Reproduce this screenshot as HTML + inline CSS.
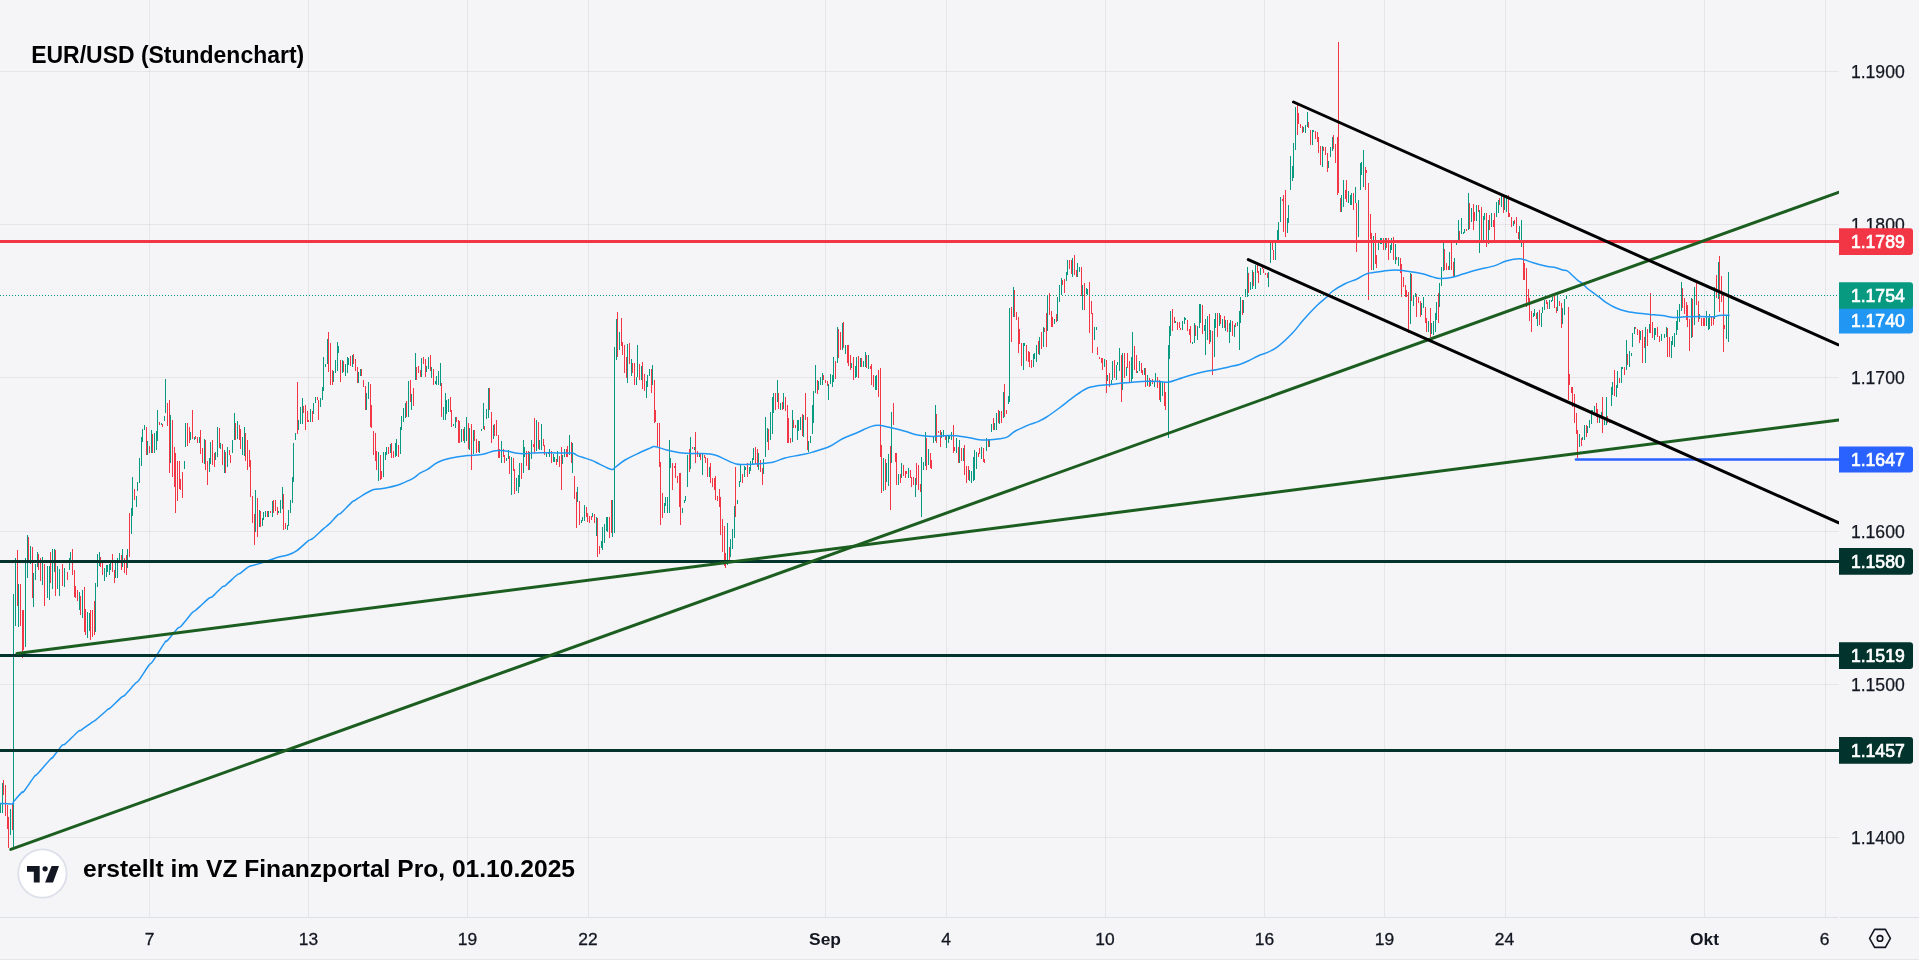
<!DOCTYPE html>
<html><head><meta charset="utf-8"><title>EUR/USD</title>
<style>html,body{margin:0;padding:0;background:#f5f5f7;width:1919px;height:960px;overflow:hidden;position:relative}</style>
</head><body>
<svg width="1919" height="960" viewBox="0 0 1919 960" style="position:absolute;left:0;top:0;will-change:transform"><rect width="1919" height="960" fill="#f5f5f7"/><path d="M0 71.5H1839M0 224.5H1839M0 377.5H1839M0 531.5H1839M0 684.5H1839M0 837.5H1839M149.5 0V917M308.5 0V917M467.5 0V917M588.5 0V917M825.5 0V917M946.5 0V917M1105.5 0V917M1264.5 0V917M1384.5 0V917M1505.5 0V917M1704.5 0V917M1825.5 0V917" stroke="#000" stroke-opacity="0.06" stroke-width="1" fill="none"/><path d="M0 917.5H1838.5M1840 917.5H1919" stroke="#dde1ea" stroke-width="1"/><path d="M0 959.5H1919" stroke="#e6e6e8" stroke-width="1"/><g clip-path="url(#cp)"><clipPath id="cp"><rect x="0" y="0" width="1839" height="917"/></clipPath><path d="M131.5 508.3V534.4M132.5 476.7V515.5M136.5 495.6V506.7M137.5 481.8V491.3M139.5 458.3V483.3M141.5 436.7V466.0M142.5 428.6V441.7M144.5 425.0V430.2M147.5 441.2V454.5M151.5 430.0V453.3M154.5 432.9V453.3M156.5 430.5V449.8M157.5 410.0V441.0M161.5 422.5V424.7M164.5 416.4V421.3M165.5 379.3V413.3M170.5 415.2V462.6M184.5 461.3V469.3M185.5 423.3V446.7M190.5 431.7V440.0M194.5 436.8V439.9M199.5 437.0V443.3M204.5 439.2V464.3M209.5 458.2V472.1M210.5 441.6V464.3M215.5 452.0V459.9M217.5 426.7V456.7M220.5 442.9V449.1M224.5 450.0V473.3M227.5 446.8V466.6M232.5 440.4V452.5M234.5 413.3V440.0M237.5 421.4V438.9M242.5 436.5V454.5M244.5 426.7V455.7M255.5 490.0V532.4M259.5 510.0V526.7M262.5 517.5V526.3M263.5 512.1V519.7M265.5 511.2V516.7M268.5 510.9V516.7M272.5 501.3V516.7M278.5 511.1V513.3M280.5 499.6V513.3M282.5 486.7V509.4M287.5 525.1V530.0M288.5 510.2V525.6M290.5 500.1V513.4M292.5 477.3V503.3M293.5 443.3V482.0M295.5 432.9V440.0M298.5 419.7V430.0M300.5 406.6V424.3M302.5 398.3V423.7M310.5 408.8V421.5M313.5 402.8V413.8M315.5 397.4V402.8M320.5 398.2V407.4M322.5 387.2V400.0M323.5 356.7V390.8M325.5 363.5V366.7M327.5 338.5V364.0M333.5 370.8V381.7M335.5 359.8V373.3M337.5 341.7V371.1M338.5 346.2V352.6M342.5 360.0V373.3M345.5 363.5V375.5M347.5 356.7V372.6M348.5 358.0V364.9M352.5 354.6V366.6M358.5 372.2V383.3M360.5 369.1V376.2M366.5 392.6V409.7M368.5 381.7V398.9M378.5 452.4V481.4M383.5 452.1V476.9M385.5 452.2V460.0M386.5 447.2V454.5M390.5 444.3V453.2M395.5 442.8V456.7M396.5 439.0V455.8M400.5 426.8V453.5M401.5 415.5V430.0M403.5 407.5V422.0M405.5 403.3V417.8M408.5 381.4V416.7M411.5 394.1V409.7M415.5 353.3V380.0M421.5 358.0V376.7M426.5 366.0V371.9M428.5 356.7V369.2M431.5 367.3V378.3M435.5 381.0V384.3M436.5 375.5V385.0M438.5 371.2V385.0M440.5 362.5V386.3M443.5 406.6V420.0M445.5 393.4V420.2M446.5 399.7V414.1M448.5 399.0V412.0M453.5 423.7V425.7M455.5 416.7V428.4M461.5 429.2V442.0M464.5 426.5V443.3M466.5 416.7V441.2M469.5 427.6V450.0M473.5 429.8V453.8M479.5 440.9V453.3M481.5 428.5V431.1M483.5 403.3V428.9M486.5 408.6V419.0M488.5 388.3V418.2M493.5 425.1V439.3M501.5 440.6V463.3M506.5 458.1V461.0M508.5 450.1V458.5M511.5 456.7V495.0M516.5 477.6V491.1M518.5 474.5V493.3M519.5 463.3V487.2M523.5 440.0V473.1M524.5 447.4V457.1M529.5 451.5V470.0M531.5 440.2V458.6M536.5 419.7V451.1M539.5 440.0V450.0M541.5 424.3V450.0M546.5 451.8V456.7M549.5 449.3V456.7M553.5 453.8V461.8M554.5 457.4V461.5M557.5 450.6V461.9M562.5 455.1V463.8M564.5 449.0V456.7M569.5 435.0V455.0M572.5 443.3V473.3M577.5 486.7V502.0M581.5 519.8V523.3M582.5 517.4V521.3M584.5 505.0V520.6M592.5 513.4V516.6M596.5 516.7V536.3M601.5 540.5V548.2M602.5 527.4V549.9M604.5 523.8V542.9M606.5 516.6V530.7M607.5 517.3V532.3M612.5 500.0V536.7M616.5 318.6V360.0M619.5 332.3V349.9M627.5 344.0V383.3M631.5 359.1V375.6M636.5 377.2V385.0M637.5 345.0V377.4M641.5 366.1V380.0M646.5 381.1V398.3M647.5 374.6V386.8M649.5 369.3V375.8M652.5 365.0V384.6M664.5 503.3V513.3M665.5 497.1V505.9M667.5 497.2V513.3M669.5 440.0V513.3M670.5 458.3V467.5M682.5 508.1V513.3M684.5 499.7V503.3M685.5 496.4V501.4M687.5 454.8V487.4M690.5 436.7V469.4M694.5 446.7V449.5M699.5 453.3V456.9M702.5 453.3V475.0M709.5 466.8V476.7M727.5 523.3V564.7M730.5 538.6V556.7M732.5 529.3V549.0M734.5 505.5V537.6M737.5 500.4V503.8M739.5 481.3V486.7M740.5 465.0V481.7M744.5 466.2V476.7M745.5 467.1V470.1M749.5 466.8V474.2M750.5 460.6V470.7M752.5 457.6V463.6M753.5 447.6V459.7M758.5 453.3V470.0M763.5 459.2V474.4M765.5 416.7V456.7M767.5 427.9V441.5M770.5 411.5V440.0M772.5 396.7V433.5M773.5 393.4V413.0M777.5 380.0V401.9M780.5 403.3V410.0M783.5 393.3V409.4M792.5 409.8V442.3M797.5 420.0V440.0M798.5 420.0V430.8M800.5 417.0V429.7M803.5 415.4V436.7M808.5 441.0V451.7M810.5 436.1V442.9M812.5 404.6V433.6M813.5 390.9V423.3M815.5 365.0V393.4M818.5 381.2V390.0M820.5 377.0V384.6M822.5 373.3V384.6M828.5 383.5V400.0M830.5 374.4V384.4M832.5 374.9V386.7M833.5 356.7V381.5M837.5 326.7V363.3M842.5 323.4V350.0M845.5 344.7V354.2M851.5 362.5V367.9M855.5 366.0V378.2M856.5 356.7V376.7M860.5 357.9V366.7M863.5 361.1V366.7M865.5 351.7V366.7M868.5 355.0V369.0M875.5 376.1V390.4M876.5 375.2V390.0M883.5 457.5V490.5M886.5 462.5V482.3M888.5 453.5V485.5M891.5 412.2V463.3M898.5 473.8V484.8M901.5 463.3V477.7M908.5 468.3V477.7M915.5 478.1V496.7M923.5 462.2V470.0M925.5 431.7V465.6M928.5 449.2V464.6M933.5 437.2V443.3M935.5 405.0V440.5M941.5 431.7V438.2M943.5 430.0V437.3M946.5 435.1V448.3M948.5 435.0V443.2M949.5 435.0V438.8M951.5 431.5V439.6M956.5 437.8V453.3M959.5 440.0V463.3M963.5 448.3V461.0M969.5 470.3V481.4M971.5 470.9V483.3M973.5 456.8V480.8M974.5 450.2V480.2M976.5 451.6V469.2M981.5 446.7V459.3M986.5 437.5V451.1M989.5 439.2V447.2M991.5 424.3V431.8M994.5 423.0V430.0M996.5 413.4V430.0M999.5 411.2V423.8M1003.5 391.9V418.2M1008.5 395.7V403.5M1009.5 308.3V401.7M1013.5 286.7V317.2M1023.5 343.3V370.0M1024.5 343.3V345.9M1033.5 353.8V367.2M1034.5 353.0V358.9M1036.5 344.5V361.5M1039.5 336.7V354.8M1043.5 326.6V346.7M1047.5 296.1V330.8M1054.5 319.4V324.1M1057.5 296.7V321.2M1059.5 284.5V301.5M1061.5 278.3V294.5M1066.5 271.5V281.1M1067.5 260.4V274.6M1072.5 258.3V276.7M1077.5 262.7V276.5M1079.5 266.5V272.0M1082.5 285.4V310.0M1086.5 288.1V294.0M1087.5 288.7V295.0M1094.5 326.7V340.2M1096.5 326.7V330.4M1104.5 359.3V367.4M1107.5 374.6V380.8M1111.5 379.6V384.5M1112.5 361.3V380.0M1116.5 364.7V380.0M1117.5 361.5V364.9M1119.5 348.3V370.7M1122.5 353.1V389.9M1126.5 366.7V375.5M1131.5 357.1V383.3M1132.5 331.7V379.3M1137.5 370.6V373.3M1139.5 361.1V370.8M1144.5 368.3V374.5M1147.5 374.8V385.8M1150.5 380.2V385.9M1154.5 380.6V386.7M1155.5 373.3V381.0M1160.5 382.0V401.7M1162.5 381.7V396.0M1169.5 326.3V358.5M1170.5 311.0V336.1M1175.5 321.1V323.2M1182.5 320.9V330.0M1184.5 316.7V323.5M1185.5 317.7V319.7M1192.5 341.7V343.7M1194.5 323.3V343.3M1197.5 326.2V340.0M1199.5 304.2V328.2M1200.5 303.8V323.1M1204.5 324.5V330.5M1205.5 319.0V355.0M1207.5 315.6V339.6M1210.5 329.8V341.9M1214.5 318.5V356.7M1215.5 313.3V327.5M1219.5 313.3V326.2M1222.5 318.7V328.1M1225.5 320.0V331.2M1229.5 322.9V343.3M1230.5 320.0V331.7M1234.5 324.6V336.7M1237.5 322.0V325.9M1239.5 311.1V350.0M1240.5 296.7V323.3M1243.5 300.4V312.9M1245.5 288.7V296.7M1247.5 266.7V296.7M1250.5 282.4V290.0M1252.5 269.6V288.8M1255.5 265.4V289.1M1260.5 267.8V274.7M1268.5 272.1V286.7M1270.5 243.3V263.3M1275.5 240.2V260.0M1277.5 230.0V240.3M1278.5 221.8V240.2M1280.5 196.7V221.9M1287.5 217.5V233.4M1288.5 205.3V222.6M1290.5 155.8V190.0M1292.5 165.8V181.1M1293.5 143.3V178.4M1295.5 106.6V150.0M1303.5 127.4V132.2M1305.5 124.5V133.3M1307.5 111.7V127.0M1312.5 130.0V145.0M1313.5 130.0V132.0M1322.5 145.9V166.6M1328.5 161.3V168.4M1330.5 147.2V156.7M1332.5 136.9V151.0M1341.5 195.1V211.7M1343.5 180.0V206.5M1348.5 191.0V203.3M1350.5 195.0V204.5M1351.5 193.2V205.1M1355.5 186.7V202.6M1358.5 200.4V237.2M1360.5 163.3V190.0M1361.5 161.7V174.5M1363.5 150.0V186.7M1373.5 236.3V270.0M1378.5 242.2V250.0M1380.5 238.3V243.8M1381.5 238.3V244.0M1385.5 238.3V250.0M1390.5 244.9V252.6M1391.5 238.2V250.4M1395.5 243.9V264.2M1398.5 256.7V265.8M1410.5 273.3V324.0M1413.5 296.4V306.1M1415.5 293.3V297.3M1421.5 302.7V315.1M1423.5 297.1V308.4M1428.5 320.7V332.2M1431.5 323.0V334.3M1433.5 320.7V335.0M1435.5 313.3V331.9M1436.5 301.6V319.7M1439.5 283.1V306.8M1441.5 266.7V286.4M1443.5 243.3V270.6M1449.5 252.1V270.3M1454.5 258.1V276.7M1456.5 239.9V244.7M1458.5 220.0V243.3M1461.5 218.3V233.9M1463.5 231.8V233.8M1464.5 229.1V233.3M1468.5 193.3V230.2M1471.5 208.3V221.8M1476.5 205.1V221.3M1479.5 209.7V253.3M1483.5 216.2V240.6M1484.5 212.7V220.3M1488.5 220.0V244.4M1491.5 213.3V226.8M1496.5 202.3V216.8M1498.5 199.9V213.3M1501.5 195.0V206.8M1504.5 195.5V209.8M1506.5 195.0V212.0M1513.5 220.5V225.5M1519.5 225.6V243.3M1521.5 220.0V246.7M1533.5 312.6V317.4M1534.5 308.7V316.4M1537.5 311.7V325.9M1541.5 312.9V326.7M1542.5 306.9V313.4M1544.5 300.0V309.8M1549.5 300.0V309.3M1551.5 300.0V302.0M1552.5 297.1V301.2M1557.5 295.0V310.6M1562.5 307.8V323.8M1564.5 298.6V314.8M1566.5 295.0V298.8M1579.5 433.8V446.9M1582.5 436.9V440.0M1584.5 425.0V440.0M1587.5 426.2V433.1M1589.5 420.1V427.9M1591.5 410.0V424.1M1592.5 410.0V412.0M1594.5 405.5V411.7M1599.5 415.3V423.3M1601.5 412.3V418.7M1604.5 417.4V425.2M1606.5 396.7V424.6M1611.5 386.5V406.2M1612.5 381.7V394.7M1616.5 385.0V396.7M1617.5 371.4V388.3M1621.5 366.7V383.3M1622.5 366.7V369.2M1626.5 340.0V370.0M1629.5 350.5V366.7M1631.5 352.5V356.0M1632.5 333.0V346.7M1634.5 326.7V333.8M1640.5 331.4V339.5M1645.5 326.7V363.3M1649.5 323.8V333.3M1654.5 327.6V339.7M1655.5 327.5V334.8M0.5 803.0V813.0M2.5 783.0V813.0M10.5 809.0V835.0M13.5 594.0V849.0M614.5 347.0V533.0M1168.5 345.0V438.0M921.5 456.7V516.7M1661.5 334.2V340.5M1664.5 334.2V338.2M1666.5 327.3V336.5M1671.5 340.5V358.3M1672.5 335.9V345.1M1674.5 333.1V347.4M1676.5 321.0V334.8M1677.5 310.2V330.2M1679.5 303.9V321.6M1681.5 282.1V310.7M1691.5 298.1V338.2M1694.5 287.2V324.5M1699.5 314.2V318.8M1706.5 311.3V325.6M1708.5 317.6V330.2M1709.5 314.2V329.1M1714.5 287.2V318.8M1718.5 262.0V298.7M1726.5 315.9V338.8M1728.5 271.8V341.7M15.5 557.5V625.8M18.5 584.2V626.7M25.5 558.3V646.7M27.5 535.0V577.5M30.5 545.8V564.2M33.5 573.3V606.7M35.5 564.2V580.0M37.5 551.7V566.7M42.5 556.7V585.0M47.5 565.8V597.5M49.5 565.8V600.0M52.5 549.2V589.2M54.5 549.2V571.7M57.5 565.8V589.2M59.5 569.2V595.8M64.5 567.5V586.7M69.5 558.3V570.0M70.5 551.7V563.3M79.5 591.7V610.0M82.5 590.0V617.5M87.5 611.7V637.5M89.5 612.5V630.8M95.5 583.3V631.7M97.5 554.2V586.7M99.5 551.7V565.8M104.5 568.3V580.8M106.5 565.0V576.7M107.5 565.0V571.7M109.5 564.2V575.0M110.5 560.0V570.0M115.5 563.3V577.5M117.5 558.3V577.5M119.5 552.5V563.3M122.5 549.2V566.7M127.5 549.2V568.3" stroke="#089981" stroke-width="1" fill="none" shape-rendering="crispEdges"/><path d="M129.5 513.3V556.7M134.5 489.0V499.7M146.5 427.0V455.0M149.5 445.8V453.3M152.5 434.3V452.6M159.5 422.2V424.7M162.5 423.8V427.3M167.5 402.7V425.7M169.5 400.0V473.3M172.5 419.5V476.7M174.5 447.3V487.3M175.5 453.3V513.3M177.5 461.4V501.3M179.5 461.2V488.7M180.5 478.5V489.8M182.5 472.3V498.3M187.5 423.3V446.4M189.5 426.6V443.0M192.5 410.0V439.4M195.5 436.2V439.0M197.5 437.4V443.3M200.5 430.0V454.2M202.5 447.5V462.6M205.5 440.1V470.0M207.5 461.2V485.0M212.5 440.0V464.6M214.5 452.9V466.7M219.5 428.1V447.8M222.5 443.7V464.7M225.5 452.4V473.3M229.5 450.0V455.4M230.5 455.0V463.3M235.5 422.5V439.7M239.5 425.2V440.0M240.5 429.4V448.9M245.5 432.5V460.7M247.5 440.0V470.0M249.5 449.5V466.8M250.5 460.0V497.1M252.5 495.7V522.9M254.5 514.3V545.0M257.5 498.2V537.4M260.5 511.1V526.7M267.5 510.5V516.7M270.5 510.9V513.4M273.5 500.0V512.8M275.5 500.3V511.2M277.5 507.3V515.4M283.5 493.7V530.0M285.5 523.3V529.2M297.5 381.7V433.8M303.5 406.3V412.7M305.5 404.5V430.0M307.5 410.9V421.7M308.5 420.2V422.2M312.5 410.5V421.7M317.5 396.7V400.3M318.5 399.5V420.0M328.5 331.7V371.5M330.5 343.3V385.0M332.5 369.5V385.0M340.5 360.0V381.7M343.5 361.1V372.4M350.5 355.9V365.7M353.5 354.1V364.0M355.5 359.2V370.7M357.5 366.7V383.3M361.5 369.3V376.2M363.5 380.0V386.7M365.5 385.6V410.0M370.5 384.4V426.7M371.5 404.9V428.4M373.5 430.6V455.0M375.5 433.3V460.5M376.5 451.2V469.5M380.5 455.1V480.0M381.5 471.3V478.6M388.5 446.5V454.2M391.5 443.3V458.4M393.5 451.0V458.2M398.5 444.6V456.7M406.5 400.9V416.5M410.5 380.0V401.9M413.5 388.1V405.9M416.5 367.0V380.0M418.5 366.4V373.0M420.5 370.2V376.8M423.5 356.7V363.7M425.5 359.4V377.4M430.5 355.0V370.5M433.5 368.9V385.0M441.5 383.3V416.7M450.5 396.7V411.8M451.5 410.2V426.7M456.5 416.7V421.6M458.5 420.4V443.3M459.5 421.4V443.3M463.5 428.7V441.2M468.5 423.2V449.1M471.5 423.7V470.0M474.5 430.1V441.0M476.5 439.4V453.3M478.5 440.9V451.9M484.5 425.8V429.9M489.5 388.3V410.3M491.5 411.7V443.3M494.5 424.3V436.0M496.5 420.2V435.9M498.5 434.8V457.9M499.5 448.8V457.5M503.5 448.8V456.5M504.5 455.4V463.3M509.5 456.0V474.0M513.5 457.8V470.8M514.5 469.4V493.5M521.5 463.3V478.7M526.5 451.4V465.9M528.5 451.4V470.0M533.5 444.3V446.5M534.5 418.3V453.0M538.5 422.0V449.3M543.5 439.3V446.4M544.5 445.4V454.5M548.5 452.1V454.1M551.5 451.0V463.1M556.5 459.0V464.6M559.5 456.1V466.7M561.5 446.7V490.0M566.5 449.0V456.7M567.5 445.9V456.7M571.5 442.4V462.7M574.5 476.4V499.1M576.5 492.1V528.3M579.5 500.5V524.6M586.5 506.8V516.8M587.5 512.5V522.1M589.5 516.2V522.6M591.5 516.3V519.9M594.5 514.0V523.4M597.5 518.0V556.7M599.5 545.6V554.3M609.5 517.0V538.3M611.5 500.0V533.4M617.5 311.7V357.4M621.5 318.3V346.1M622.5 341.5V355.0M624.5 344.6V373.1M626.5 356.9V378.4M629.5 343.3V363.7M632.5 363.3V373.0M634.5 363.3V385.0M639.5 364.2V380.0M642.5 361.7V389.0M644.5 373.8V390.8M651.5 369.0V393.3M654.5 380.0V423.3M655.5 409.9V422.1M657.5 423.3V446.6M659.5 423.3V466.6M660.5 462.4V525.0M662.5 493.3V518.2M672.5 463.3V490.0M674.5 465.9V467.9M675.5 463.3V478.1M677.5 475.6V483.1M679.5 472.9V506.7M680.5 473.3V525.0M689.5 448.8V471.6M692.5 447.2V449.2M695.5 431.7V463.3M697.5 451.3V457.1M700.5 453.3V460.2M704.5 455.0V458.1M705.5 456.7V462.6M707.5 458.0V476.7M710.5 463.1V483.1M712.5 477.5V486.9M714.5 477.6V490.0M715.5 476.3V499.5M717.5 495.5V501.4M719.5 488.5V507.4M720.5 496.7V534.7M722.5 519.1V551.5M724.5 526.1V565.6M725.5 553.4V568.3M729.5 546.9V563.1M735.5 466.7V516.7M742.5 474.2V482.5M747.5 463.3V476.7M755.5 446.7V464.4M757.5 449.3V466.7M760.5 459.6V471.9M762.5 467.6V485.0M768.5 429.3V450.3M775.5 393.4V410.0M778.5 393.0V409.3M782.5 401.9V410.0M785.5 397.4V410.6M787.5 405.0V443.3M788.5 417.6V443.3M790.5 437.5V443.3M793.5 420.0V427.7M795.5 425.0V427.8M802.5 414.3V435.8M805.5 393.3V419.6M807.5 416.7V449.5M817.5 379.8V393.5M823.5 375.0V380.0M825.5 380.0V383.3M827.5 381.2V386.1M835.5 361.2V378.8M838.5 329.3V357.6M840.5 332.4V350.3M843.5 321.7V347.7M847.5 345.0V363.3M848.5 345.0V366.4M850.5 355.1V370.0M853.5 356.7V380.0M858.5 355.8V377.6M861.5 357.8V366.7M866.5 354.5V367.5M870.5 366.0V369.2M871.5 363.8V385.4M873.5 374.6V386.9M878.5 370.0V396.7M880.5 368.3V456.7M881.5 445.0V493.3M885.5 459.0V489.5M890.5 446.2V510.0M893.5 403.3V424.9M895.5 453.3V461.5M896.5 453.3V485.0M900.5 474.2V483.3M903.5 464.7V475.9M905.5 471.3V477.8M906.5 470.7V474.3M910.5 469.5V477.8M911.5 476.6V486.7M913.5 476.7V485.3M916.5 463.3V484.9M918.5 465.0V490.0M920.5 483.5V491.5M926.5 438.3V470.0M930.5 452.5V468.1M931.5 459.9V469.1M936.5 414.4V443.4M938.5 431.2V433.4M940.5 430.0V446.7M945.5 435.0V440.2M953.5 425.0V453.3M954.5 447.1V451.3M958.5 447.1V462.9M961.5 448.2V460.6M964.5 445.0V474.6M966.5 465.5V483.3M968.5 466.4V480.3M978.5 452.7V457.1M979.5 447.7V453.5M983.5 448.4V462.1M984.5 459.4V463.3M988.5 439.3V447.3M993.5 418.3V430.0M998.5 410.0V423.0M1001.5 410.6V423.2M1004.5 383.8V416.7M1006.5 410.3V414.3M1011.5 307.2V341.7M1014.5 289.6V317.4M1016.5 312.4V319.8M1018.5 316.7V353.3M1019.5 329.2V344.0M1021.5 343.1V366.1M1026.5 345.4V360.5M1028.5 350.7V361.9M1029.5 351.7V367.1M1031.5 360.3V368.2M1038.5 340.7V353.5M1041.5 332.1V349.2M1044.5 327.5V331.6M1046.5 313.3V346.7M1049.5 292.6V315.2M1051.5 311.3V326.7M1052.5 316.7V326.7M1056.5 314.3V321.8M1062.5 279.6V284.6M1064.5 279.1V292.6M1069.5 260.4V268.7M1071.5 259.6V274.4M1074.5 255.0V275.2M1076.5 269.7V276.7M1081.5 266.7V296.3M1084.5 283.3V310.0M1089.5 281.7V333.3M1091.5 300.8V313.6M1092.5 313.3V353.3M1097.5 347.4V355.0M1099.5 356.7V358.7M1101.5 357.6V362.5M1102.5 357.8V370.0M1106.5 360.0V392.9M1109.5 373.3V387.3M1114.5 360.0V377.5M1121.5 355.3V401.7M1124.5 353.3V377.6M1127.5 353.3V368.1M1129.5 360.7V383.3M1134.5 346.1V370.3M1136.5 355.0V373.3M1141.5 363.0V373.1M1142.5 369.5V374.7M1145.5 368.3V386.7M1149.5 378.1V386.7M1152.5 379.0V384.1M1157.5 377.1V388.1M1159.5 380.0V399.9M1164.5 381.9V406.3M1165.5 391.9V410.0M1172.5 309.2V330.7M1174.5 317.2V323.0M1177.5 321.7V330.0M1179.5 322.4V328.3M1180.5 328.3V330.3M1187.5 320.1V330.7M1189.5 329.4V334.8M1190.5 326.1V343.3M1195.5 324.7V335.6M1202.5 304.7V334.4M1209.5 314.3V343.6M1212.5 330.6V375.0M1217.5 313.3V336.7M1220.5 314.7V324.2M1224.5 316.2V327.9M1227.5 320.0V332.4M1232.5 321.4V336.1M1235.5 323.3V326.6M1242.5 300.1V315.0M1248.5 272.6V292.8M1253.5 272.3V285.9M1257.5 263.3V272.6M1258.5 270.6V283.3M1262.5 266.7V269.3M1263.5 269.0V272.6M1265.5 273.3V275.3M1267.5 273.3V277.8M1272.5 243.3V250.2M1273.5 249.7V259.6M1282.5 199.3V201.3M1283.5 194.6V232.1M1285.5 190.0V236.7M1297.5 103.3V134.7M1298.5 113.3V124.3M1300.5 124.3V127.6M1302.5 125.6V133.3M1308.5 121.8V128.0M1310.5 130.0V145.0M1315.5 131.1V138.6M1317.5 131.6V141.9M1318.5 136.7V153.1M1320.5 145.5V165.0M1323.5 146.7V151.3M1325.5 147.4V154.5M1327.5 152.7V171.7M1333.5 135.0V148.6M1335.5 143.7V162.8M1337.5 136.7V195.2M1340.5 197.9V211.7M1345.5 190.3V199.2M1346.5 180.0V201.5M1353.5 192.8V210.0M1356.5 203.3V251.7M1365.5 166.7V190.0M1366.5 169.8V172.7M1370.5 214.4V239.1M1371.5 233.3V270.0M1375.5 233.3V263.5M1376.5 255.4V267.6M1383.5 238.3V250.0M1386.5 238.3V248.1M1388.5 238.3V260.0M1393.5 236.7V259.6M1396.5 256.7V260.2M1400.5 258.2V273.4M1401.5 264.3V296.7M1403.5 276.7V286.7M1405.5 285.4V296.7M1406.5 290.1V297.0M1408.5 291.9V333.3M1411.5 274.3V300.7M1416.5 293.5V316.7M1418.5 296.7V302.9M1420.5 301.0V316.7M1425.5 306.7V322.5M1426.5 318.1V332.4M1430.5 307.6V336.6M1438.5 293.3V323.3M1444.5 248.6V270.0M1446.5 263.1V270.0M1448.5 265.9V270.0M1451.5 240.0V270.3M1453.5 262.0V276.7M1459.5 231.1V243.3M1466.5 229.0V231.0M1469.5 202.7V228.9M1473.5 204.1V230.0M1474.5 211.8V220.5M1478.5 205.0V212.0M1481.5 206.7V240.0M1486.5 213.3V246.7M1489.5 215.3V230.0M1493.5 220.2V226.9M1494.5 213.3V241.7M1499.5 198.3V204.5M1503.5 195.0V213.3M1508.5 195.0V216.7M1509.5 213.4V217.4M1511.5 216.7V226.7M1514.5 220.3V224.4M1516.5 216.8V233.3M1518.5 231.8V238.8M1523.5 243.3V280.0M1524.5 263.4V280.0M1526.5 267.8V306.7M1528.5 288.6V301.6M1529.5 297.6V321.0M1531.5 311.3V331.7M1536.5 312.7V319.2M1539.5 310.0V325.4M1546.5 300.0V304.3M1547.5 301.7V308.8M1554.5 295.0V308.4M1556.5 307.0V313.3M1559.5 301.2V305.9M1561.5 303.3V328.3M1569.5 374.1V385.2M1571.5 386.7V392.9M1572.5 386.7V406.6M1574.5 394.1V423.3M1576.5 412.8V434.0M1577.5 429.7V457.7M1581.5 437.6V445.5M1586.5 425.0V436.7M1596.5 403.3V416.5M1597.5 409.2V423.3M1602.5 396.7V433.3M1607.5 416.4V423.3M1609.5 421.1V423.3M1614.5 370.0V395.9M1619.5 377.9V383.3M1624.5 366.8V375.1M1627.5 353.7V364.7M1635.5 326.7V328.7M1637.5 328.6V335.1M1639.5 330.0V343.1M1642.5 330.0V363.3M1644.5 337.1V347.7M1647.5 329.3V346.3M1650.5 293.3V333.3M1652.5 322.2V338.0M1657.5 326.7V337.1M1659.5 336.0V341.7M3.5 780.0V795.0M5.5 785.0V816.0M7.5 805.0V829.0M8.5 817.0V848.0M12.5 803.0V830.0M1338.5 41.7V193.0M1368.5 183.0V300.0M1568.5 306.7V400.0M1667.5 327.9V356.6M1669.5 337.1V356.6M1682.5 287.8V307.9M1684.5 298.1V313.6M1686.5 302.1V319.9M1687.5 305.0V326.8M1689.5 318.8V350.8M1692.5 299.3V337.1M1696.5 282.1V305.0M1698.5 301.0V321.6M1701.5 318.2V326.2M1703.5 318.2V326.2M1704.5 318.2V326.2M1711.5 315.9V326.2M1713.5 316.5V324.5M1716.5 274.6V297.6M1719.5 255.7V312.4M1721.5 275.8V301.6M1723.5 294.7V352.0M1724.5 324.5V329.1M17.5 550.0V605.8M20.5 584.2V625.8M22.5 610.0V657.5M23.5 610.0V650.0M28.5 536.7V563.3M32.5 546.7V597.5M38.5 554.2V570.0M40.5 558.3V580.8M44.5 564.2V605.8M50.5 551.7V583.3M55.5 550.0V595.8M62.5 564.2V585.8M67.5 571.7V580.0M72.5 549.2V575.0M74.5 570.0V596.7M75.5 585.8V598.3M77.5 590.0V600.8M80.5 595.8V615.0M84.5 586.7V631.7M85.5 609.2V635.0M90.5 610.0V640.0M92.5 610.0V636.7M94.5 600.8V635.0M100.5 556.7V566.7M102.5 560.8V575.0M112.5 554.2V571.7M114.5 570.0V583.3M121.5 555.0V570.0M124.5 558.3V572.5M126.5 555.0V575.0" stroke="#f23645" stroke-width="1" fill="none" shape-rendering="crispEdges"/><path d="M0.00 803.40C2.10 803.48 10.32 804.20 12.60 803.90C14.88 803.60 12.17 803.52 13.70 801.60C15.23 799.68 20.08 794.12 21.80 792.40C23.52 790.68 21.90 793.97 24.00 791.30C26.10 788.63 32.28 779.18 34.40 776.40C36.52 773.62 34.03 777.47 36.70 774.60C39.37 771.73 47.73 762.03 50.40 759.20C53.07 756.37 50.78 759.88 52.70 757.60C54.62 755.32 59.80 747.78 61.90 745.50C64.00 743.22 62.63 746.20 65.30 743.90C67.97 741.60 75.23 734.00 77.90 731.70C80.57 729.40 79.02 731.62 81.30 730.10C83.58 728.58 89.12 724.35 91.60 722.60C94.08 720.85 93.52 721.78 96.20 719.60C98.88 717.42 105.40 711.42 107.70 709.50C110.00 707.58 107.72 710.12 110.00 708.10C112.28 706.08 118.92 699.57 121.40 697.40C123.88 695.23 122.60 697.40 124.90 695.10C127.20 692.80 132.92 686.02 135.20 683.60C137.48 681.18 136.32 683.65 138.60 680.60C140.88 677.55 146.62 668.42 148.90 665.30C151.18 662.18 149.63 665.72 152.30 661.90C154.97 658.08 162.42 645.92 164.90 642.40C167.38 638.88 165.10 643.10 167.20 640.80C169.30 638.50 175.20 631.02 177.50 628.60C179.80 626.18 178.52 628.97 181.00 626.30C183.48 623.63 190.12 615.15 192.40 612.60C194.68 610.05 193.43 612.03 194.70 611.00C195.97 609.97 197.66 608.50 200.00 606.40C202.34 604.30 206.67 600.03 208.75 598.40C210.83 596.77 210.31 598.47 212.50 596.60C214.69 594.73 219.72 589.08 221.90 587.20C224.08 585.32 223.10 587.33 225.60 585.30C228.10 583.27 234.40 577.03 236.90 575.00C239.40 572.97 238.73 574.42 240.60 573.10C242.47 571.78 245.91 568.41 248.10 567.10C250.29 565.79 250.93 566.12 253.75 565.25C256.57 564.38 261.25 563.15 265.00 561.90C268.75 560.65 272.35 558.94 276.25 557.75C280.15 556.56 284.96 555.94 288.40 554.75C291.84 553.56 293.62 552.91 296.90 550.60C300.18 548.29 305.45 542.93 308.10 540.90C310.75 538.87 310.30 540.37 312.80 538.40C315.30 536.43 320.44 531.43 323.10 529.10C325.76 526.77 326.25 526.82 328.75 524.40C331.25 521.98 336.08 516.48 338.10 514.60C340.12 512.72 338.55 515.22 340.90 513.10C343.25 510.98 349.85 504.02 352.20 501.90C354.55 499.78 353.28 501.50 355.00 500.40C356.72 499.30 359.68 496.99 362.50 495.30C365.32 493.61 369.40 491.28 371.90 490.25C374.40 489.22 375.00 489.51 377.50 489.10C380.00 488.69 383.47 488.48 386.90 487.80C390.33 487.12 395.60 485.72 398.10 485.00C400.60 484.28 399.40 484.60 401.90 483.50C404.40 482.40 410.08 480.13 413.10 478.40C416.12 476.67 417.60 474.60 420.00 473.10C422.40 471.60 424.58 471.17 427.50 469.40C430.42 467.63 433.54 464.38 437.50 462.50C441.46 460.62 446.25 459.25 451.25 458.10C456.25 456.95 463.12 456.12 467.50 455.60C471.88 455.08 474.58 455.31 477.50 455.00C480.42 454.69 482.29 454.43 485.00 453.75C487.71 453.07 491.25 451.42 493.75 450.90C496.25 450.38 497.71 450.54 500.00 450.60C502.29 450.66 505.00 450.87 507.50 451.25C510.00 451.63 512.29 452.48 515.00 452.90C517.71 453.32 520.83 453.72 523.75 453.75C526.67 453.78 529.79 453.27 532.50 453.10C535.21 452.93 536.88 452.81 540.00 452.75C543.12 452.69 547.50 452.69 551.25 452.75C555.00 452.81 558.96 453.04 562.50 453.10C566.04 453.16 570.00 452.68 572.50 453.10C575.00 453.52 575.42 454.77 577.50 455.60C579.58 456.43 582.50 457.27 585.00 458.10C587.50 458.93 590.00 459.55 592.50 460.60C595.00 461.65 596.88 462.93 600.00 464.40C603.12 465.87 608.75 468.88 611.25 469.40C613.75 469.92 612.71 469.07 615.00 467.50C617.29 465.93 620.83 462.50 625.00 460.00C629.17 457.50 635.83 454.48 640.00 452.50C644.17 450.52 647.71 449.08 650.00 448.10C652.29 447.12 652.50 446.77 653.75 446.60C655.00 446.43 655.21 446.49 657.50 447.10C659.79 447.71 663.33 449.25 667.50 450.25C671.67 451.25 677.08 452.56 682.50 453.10C687.92 453.64 694.58 453.18 700.00 453.50C705.42 453.82 710.83 454.02 715.00 455.00C719.17 455.98 721.46 457.90 725.00 459.40C728.54 460.90 732.92 463.17 736.25 464.00C739.58 464.83 741.25 464.44 745.00 464.40C748.75 464.36 753.96 464.17 758.75 463.75C763.54 463.33 769.38 462.88 773.75 461.90C778.12 460.92 780.62 459.05 785.00 457.90C789.38 456.75 795.42 455.97 800.00 455.00C804.58 454.03 807.50 453.56 812.50 452.10C817.50 450.64 825.00 448.48 830.00 446.25C835.00 444.02 837.92 441.04 842.50 438.75C847.08 436.46 852.92 434.48 857.50 432.50C862.08 430.52 866.46 428.11 870.00 426.90C873.54 425.69 875.00 425.05 878.75 425.25C882.50 425.45 888.12 427.10 892.50 428.10C896.88 429.10 900.83 430.10 905.00 431.25C909.17 432.40 912.92 434.12 917.50 435.00C922.08 435.88 927.29 436.40 932.50 436.50C937.71 436.60 943.33 435.53 948.75 435.60C954.17 435.67 960.21 436.27 965.00 436.90C969.79 437.53 973.75 438.88 977.50 439.40C981.25 439.92 983.75 440.11 987.50 440.00C991.25 439.89 996.67 439.27 1000.00 438.75C1003.33 438.23 1005.00 438.15 1007.50 436.90C1010.00 435.65 1011.25 433.33 1015.00 431.25C1018.75 429.17 1026.25 425.96 1030.00 424.40C1033.75 422.84 1034.79 423.09 1037.50 421.90C1040.21 420.71 1042.50 419.65 1046.25 417.25C1050.00 414.85 1055.42 410.89 1060.00 407.50C1064.58 404.11 1069.38 400.02 1073.75 396.90C1078.12 393.77 1082.08 390.63 1086.25 388.75C1090.42 386.87 1094.58 386.33 1098.75 385.60C1102.92 384.88 1107.29 384.82 1111.25 384.40C1115.21 383.98 1118.54 383.52 1122.50 383.10C1126.46 382.68 1130.83 382.21 1135.00 381.90C1139.17 381.59 1143.33 381.30 1147.50 381.25C1151.67 381.20 1156.57 381.43 1160.00 381.60C1163.43 381.77 1164.97 382.68 1168.10 382.25C1171.22 381.82 1174.89 380.21 1178.75 379.00C1182.61 377.79 1186.88 376.25 1191.25 375.00C1195.62 373.75 1200.83 372.38 1205.00 371.50C1209.17 370.62 1212.29 370.52 1216.25 369.75C1220.21 368.98 1225.00 367.73 1228.75 366.90C1232.50 366.07 1235.62 365.69 1238.75 364.75C1241.88 363.81 1243.96 362.88 1247.50 361.25C1251.04 359.62 1256.88 356.39 1260.00 355.00C1263.12 353.61 1263.33 354.25 1266.25 352.90C1269.17 351.55 1273.12 350.20 1277.50 346.90C1281.88 343.60 1288.12 337.68 1292.50 333.10C1296.88 328.52 1299.58 324.08 1303.75 319.40C1307.92 314.72 1313.75 308.65 1317.50 305.00C1321.25 301.35 1323.75 299.79 1326.25 297.50C1328.75 295.21 1329.38 293.54 1332.50 291.25C1335.62 288.96 1340.83 285.83 1345.00 283.75C1349.17 281.67 1353.75 280.46 1357.50 278.75C1361.25 277.04 1363.33 274.75 1367.50 273.50C1371.67 272.25 1377.92 271.83 1382.50 271.25C1387.08 270.67 1390.83 270.00 1395.00 270.00C1399.17 270.00 1402.92 270.62 1407.50 271.25C1412.08 271.88 1418.33 272.81 1422.50 273.75C1426.67 274.69 1429.58 276.11 1432.50 276.90C1435.42 277.69 1436.67 278.44 1440.00 278.50C1443.33 278.56 1448.54 278.04 1452.50 277.25C1456.46 276.46 1459.58 275.00 1463.75 273.75C1467.92 272.50 1472.29 271.11 1477.50 269.75C1482.71 268.39 1490.21 267.06 1495.00 265.60C1499.79 264.14 1502.08 262.14 1506.25 261.00C1510.42 259.86 1515.62 258.50 1520.00 258.75C1524.38 259.00 1527.92 261.21 1532.50 262.50C1537.08 263.79 1543.88 265.72 1547.50 266.50C1551.12 267.28 1551.70 266.62 1554.20 267.20C1556.70 267.78 1560.33 269.40 1562.50 270.00C1564.67 270.60 1565.63 269.97 1567.20 270.80C1568.77 271.63 1570.08 273.35 1571.90 275.00C1573.72 276.65 1576.37 279.32 1578.10 280.70C1579.83 282.08 1580.73 282.00 1582.30 283.30C1583.87 284.60 1585.59 286.85 1587.50 288.50C1589.41 290.15 1591.83 291.80 1593.75 293.20C1595.67 294.60 1596.92 295.33 1599.00 296.90C1601.08 298.47 1603.30 300.70 1606.25 302.60C1609.20 304.50 1613.23 306.82 1616.70 308.30C1620.17 309.78 1623.47 310.67 1627.10 311.50C1630.73 312.33 1634.68 312.82 1638.50 313.30C1642.32 313.78 1646.00 314.02 1650.00 314.40C1654.00 314.78 1658.50 315.08 1662.50 315.60C1666.50 316.12 1670.18 317.32 1674.00 317.50C1677.82 317.68 1680.90 316.87 1685.40 316.70C1689.90 316.53 1696.13 316.50 1701.00 316.50C1705.87 316.50 1711.64 316.88 1714.60 316.70C1717.56 316.52 1716.23 315.62 1718.75 315.40C1721.27 315.18 1727.88 315.40 1729.70 315.40" stroke="#2196f3" stroke-width="1.5" fill="none" stroke-linejoin="round"/><path d="M0 295.5H1838" stroke="#089981" stroke-width="1" stroke-dasharray="1 2"/><path d="M0 561.5H1839" stroke="#02332d" stroke-width="3"/><path d="M0 655.5H1839" stroke="#02332d" stroke-width="3"/><path d="M0 750.5H1839" stroke="#02332d" stroke-width="3"/><path d="M0 241.5H1839" stroke="#f23645" stroke-width="3"/><path d="M1576 459.5H1839" stroke="#2962ff" stroke-width="2.6" stroke-linecap="round"/><path d="M10.8 849.4L1838.5 192.3" stroke="#1b5e20" stroke-width="3" stroke-linecap="round"/><path d="M16.9 653.5L1838.8 420" stroke="#1b5e20" stroke-width="3" stroke-linecap="round"/><path d="M1293.5 102L1838.5 344.8" stroke="#000" stroke-width="3" stroke-linecap="round"/><path d="M1248.3 259.6L1838.8 522.8" stroke="#000" stroke-width="3" stroke-linecap="round"/></g><text x="1850.9" y="77.8" font-family="Liberation Sans, sans-serif" font-size="17.6" fill="#131722" stroke="#131722" stroke-width="0.25">1.1900</text><text x="1850.9" y="230.8" font-family="Liberation Sans, sans-serif" font-size="17.6" fill="#131722" stroke="#131722" stroke-width="0.25">1.1800</text><text x="1850.9" y="383.8" font-family="Liberation Sans, sans-serif" font-size="17.6" fill="#131722" stroke="#131722" stroke-width="0.25">1.1700</text><text x="1850.9" y="537.8" font-family="Liberation Sans, sans-serif" font-size="17.6" fill="#131722" stroke="#131722" stroke-width="0.25">1.1600</text><text x="1850.9" y="690.8" font-family="Liberation Sans, sans-serif" font-size="17.6" fill="#131722" stroke="#131722" stroke-width="0.25">1.1500</text><text x="1850.9" y="843.8" font-family="Liberation Sans, sans-serif" font-size="17.6" fill="#131722" stroke="#131722" stroke-width="0.25">1.1400</text><path d="M1839 228.3H1910a3 3 0 0 1 3 3V252a3 3 0 0 1 -3 3H1839Z" fill="#f23645"/><text x="1850.9" y="248.0" font-family="Liberation Sans, sans-serif" font-size="17.6" font-weight="normal" fill="#fff" stroke="#fff" stroke-width="0.7">1.1789</text><path d="M1839 306H1913V330.4a3 3 0 0 1 -3 3H1839Z" fill="#2196f3"/><text x="1850.9" y="327.4" font-family="Liberation Sans, sans-serif" font-size="17.6" font-weight="normal" fill="#fff" stroke="#fff" stroke-width="0.7">1.1740</text><path d="M1839 282.2H1910a3 3 0 0 1 3 3V305.8a3 3 0 0 1 -3 3H1839Z" fill="#089981"/><text x="1850.9" y="301.8" font-family="Liberation Sans, sans-serif" font-size="17.6" font-weight="normal" fill="#fff" stroke="#fff" stroke-width="0.7">1.1754</text><path d="M1839 446.4H1910a3 3 0 0 1 3 3V469.4a3 3 0 0 1 -3 3H1839Z" fill="#2962ff"/><text x="1850.9" y="465.7" font-family="Liberation Sans, sans-serif" font-size="17.6" font-weight="normal" fill="#fff" stroke="#fff" stroke-width="0.7">1.1647</text><path d="M1839 548H1910a3 3 0 0 1 3 3V571.7a3 3 0 0 1 -3 3H1839Z" fill="#02332d"/><text x="1850.9" y="567.6" font-family="Liberation Sans, sans-serif" font-size="17.6" font-weight="normal" fill="#fff" stroke="#fff" stroke-width="0.7">1.1580</text><path d="M1839 642.2H1910a3 3 0 0 1 3 3V665.9a3 3 0 0 1 -3 3H1839Z" fill="#02332d"/><text x="1850.9" y="661.8" font-family="Liberation Sans, sans-serif" font-size="17.6" font-weight="normal" fill="#fff" stroke="#fff" stroke-width="0.7">1.1519</text><path d="M1839 737H1910a3 3 0 0 1 3 3V760.7a3 3 0 0 1 -3 3H1839Z" fill="#02332d"/><text x="1850.9" y="756.6" font-family="Liberation Sans, sans-serif" font-size="17.6" font-weight="normal" fill="#fff" stroke="#fff" stroke-width="0.7">1.1457</text><text x="149.5" y="945" font-family="Liberation Sans, sans-serif" font-size="17.4" text-anchor="middle" fill="#131722" stroke="#131722" stroke-width="0.3">7</text><text x="308.5" y="945" font-family="Liberation Sans, sans-serif" font-size="17.4" text-anchor="middle" fill="#131722" stroke="#131722" stroke-width="0.3">13</text><text x="467.5" y="945" font-family="Liberation Sans, sans-serif" font-size="17.4" text-anchor="middle" fill="#131722" stroke="#131722" stroke-width="0.3">19</text><text x="588" y="945" font-family="Liberation Sans, sans-serif" font-size="17.4" text-anchor="middle" fill="#131722" stroke="#131722" stroke-width="0.3">22</text><text x="825" y="945" font-family="Liberation Sans, sans-serif" font-size="17.4" text-anchor="middle" fill="#131722" stroke="#131722" stroke-width="0" font-weight="bold">Sep</text><text x="946" y="945" font-family="Liberation Sans, sans-serif" font-size="17.4" text-anchor="middle" fill="#131722" stroke="#131722" stroke-width="0.3">4</text><text x="1105" y="945" font-family="Liberation Sans, sans-serif" font-size="17.4" text-anchor="middle" fill="#131722" stroke="#131722" stroke-width="0.3">10</text><text x="1264.5" y="945" font-family="Liberation Sans, sans-serif" font-size="17.4" text-anchor="middle" fill="#131722" stroke="#131722" stroke-width="0.3">16</text><text x="1384.5" y="945" font-family="Liberation Sans, sans-serif" font-size="17.4" text-anchor="middle" fill="#131722" stroke="#131722" stroke-width="0.3">19</text><text x="1504.5" y="945" font-family="Liberation Sans, sans-serif" font-size="17.4" text-anchor="middle" fill="#131722" stroke="#131722" stroke-width="0.3">24</text><text x="1704.5" y="945" font-family="Liberation Sans, sans-serif" font-size="17.4" text-anchor="middle" fill="#131722" stroke="#131722" stroke-width="0" font-weight="bold">Okt</text><text x="1824.5" y="945" font-family="Liberation Sans, sans-serif" font-size="17.4" text-anchor="middle" fill="#131722" stroke="#131722" stroke-width="0.3">6</text><path d="M1869.6 938.4L1874.6 929.4H1885.4L1890.4 938.4L1885.4 947.4H1874.6Z" stroke="#131722" stroke-width="1.6" fill="none" stroke-linejoin="round"/><circle cx="1880" cy="938.4" r="2.8" stroke="#131722" stroke-width="1.6" fill="none"/><text x="31.2" y="63.1" font-family="Liberation Sans, sans-serif" font-size="23.2" font-weight="bold" fill="#000" stroke="#000" stroke-width="0.0" textLength="273.0" lengthAdjust="spacingAndGlyphs">EUR/USD (Stundenchart)</text><circle cx="42.4" cy="873.5" r="24.2" fill="#fff" stroke="#dde0ea" stroke-width="1.8"/><path d="M27 866H39.7V882.4H33.8V871.7H27Z" fill="#131722"/><circle cx="45.1" cy="868.8" r="2.6" fill="#131722"/><path d="M51.6 866H59L53 882.4H45.1Z" fill="#131722"/><text x="83.0" y="876.9" font-family="Liberation Sans, sans-serif" font-size="24.5" font-weight="bold" fill="#000" stroke="#000" stroke-width="0.0" textLength="492.0" lengthAdjust="spacingAndGlyphs">erstellt im VZ Finanzportal Pro, 01.10.2025</text></svg>
</body></html>
